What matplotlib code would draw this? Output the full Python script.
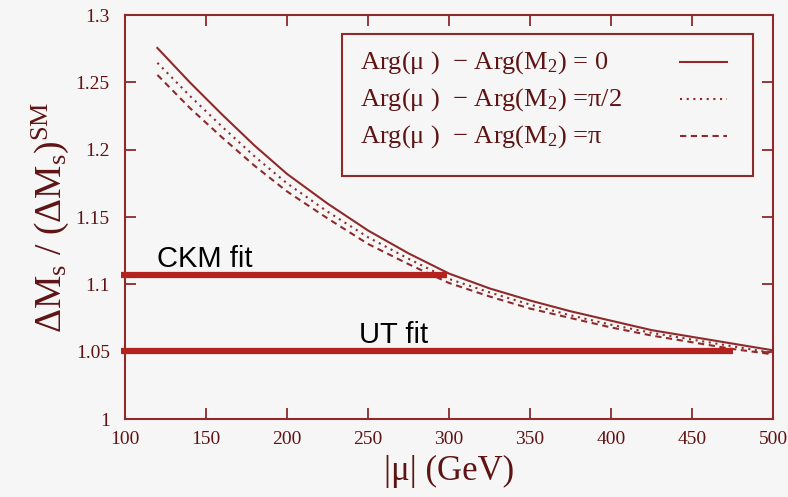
import matplotlib
matplotlib.use("Agg")
import matplotlib.pyplot as plt
from matplotlib.patches import Rectangle

# ---- data ----
mu = [120, 140, 160, 180, 200, 225, 250, 275, 300, 325, 350, 375, 400, 425, 450, 475, 500]
ratio_0 = [1.2755, 1.250, 1.226, 1.203, 1.182, 1.160, 1.140, 1.123, 1.108, 1.097, 1.088, 1.080, 1.073, 1.066, 1.061, 1.056, 1.051]
ratio_pi2 = [1.2645, 1.240, 1.217, 1.195, 1.175, 1.154, 1.135, 1.119, 1.104, 1.094, 1.085, 1.077, 1.070, 1.064, 1.059, 1.054, 1.049]
ratio_pi = [1.2555, 1.231, 1.209, 1.188, 1.169, 1.149, 1.130, 1.115, 1.101, 1.091, 1.082, 1.075, 1.068, 1.062, 1.057, 1.052, 1.048]

fit_labels = ["CKM fit", "UT fit"]
fit_values = [1.1069, 1.0505]
fit_x_start = [97.5, 97.5]
fit_x_end = [298.5, 475.0]
fit_label_x = [120.0, 244.5]

x_ticks = [100, 150, 200, 250, 300, 350, 400, 450, 500]
y_ticks = [1.0, 1.05, 1.1, 1.15, 1.2, 1.25, 1.3]
y_tick_labels = ["1", "1.05", "1.1", "1.15", "1.2", "1.25", "1.3"]

legend_labels = [
    "Arg(μ )  − Arg(M$_2$) = 0",
    "Arg(μ )  − Arg(M$_2$) =π/2",
    "Arg(μ )  − Arg(M$_2$) =π",
]

# ---- style ----
plt.rcParams["font.family"] = ["Liberation Serif", "DejaVu Serif"]
plt.rcParams["mathtext.fontset"] = "custom"
plt.rcParams["mathtext.rm"] = "Liberation Serif"
plt.rcParams["mathtext.it"] = "Liberation Serif:italic"
plt.rcParams["mathtext.default"] = "rm"

bg = "#f6f6f6"
maroon = "#8e2a2a"
text_c = "#5e1414"
fit_c = "#b3221f"

fig = plt.figure(figsize=(7.88, 4.97), dpi=100, facecolor=bg)
ax = fig.add_axes([125 / 788, 1 - 419 / 497, 648 / 788, 404 / 497])
ax.set_facecolor(bg)

styles = ["-", (0, (1, 2.2)), (0, (3, 2.2))]
for ys, st in zip([ratio_0, ratio_pi2, ratio_pi], styles):
    ax.plot(mu, ys, color=maroon, lw=1.5, ls=st)

for lab, v, xs, xe, lx in zip(fit_labels, fit_values, fit_x_start, fit_x_end, fit_label_x):
    ax.plot([xs, xe], [v, v], color=fit_c, lw=4.5, solid_capstyle="butt",
            clip_on=False, zorder=5)
    ax.text(lx, v + 0.006, lab, family=["Liberation Sans", "DejaVu Sans"],
            fontsize=21, color="black", ha="left", va="baseline")

ax.set_xlim(100, 500)
ax.set_ylim(1.0, 1.3)
ax.set_xticks(x_ticks)
ax.set_xticklabels([str(t) for t in x_ticks])
ax.set_yticks(y_ticks)
ax.set_yticklabels(y_tick_labels)

for s in ax.spines.values():
    s.set_color(maroon)
    s.set_linewidth(1.5)

ax.tick_params(direction="in", length=8, width=1.3, color=maroon,
               labelcolor=text_c, labelsize=14, top=True, right=True)
ax.tick_params(axis="x", pad=9)
ax.tick_params(axis="y", pad=11)

ax.set_xlabel("|μ| (GeV)", fontsize=25, color=text_c, labelpad=5)
ax.set_ylabel("ΔM$_s$ / (ΔM$_s$)$^{SM}$", fontsize=27,
              color=text_c, labelpad=3)

# ---- legend (text left, sample on the right, as in the reference) ----
box = Rectangle((0.335, 0.601), 0.969 - 0.335, 0.953 - 0.601,
                transform=ax.transAxes, facecolor=bg, edgecolor=maroon,
                lw=1.5, zorder=6)
ax.add_patch(box)
row_y = [0.883, 0.791, 0.700]
for lab, ry, st in zip(legend_labels, row_y, styles):
    ax.text(0.3627, ry, lab, transform=ax.transAxes, fontsize=19,
            color=text_c, ha="left", va="center", zorder=7)
    ax.plot([0.8565, 0.929], [ry, ry], transform=ax.transAxes,
            color=maroon, lw=1.5, ls=st, zorder=7)

fig.savefig("out.png", dpi=100, facecolor=bg)
